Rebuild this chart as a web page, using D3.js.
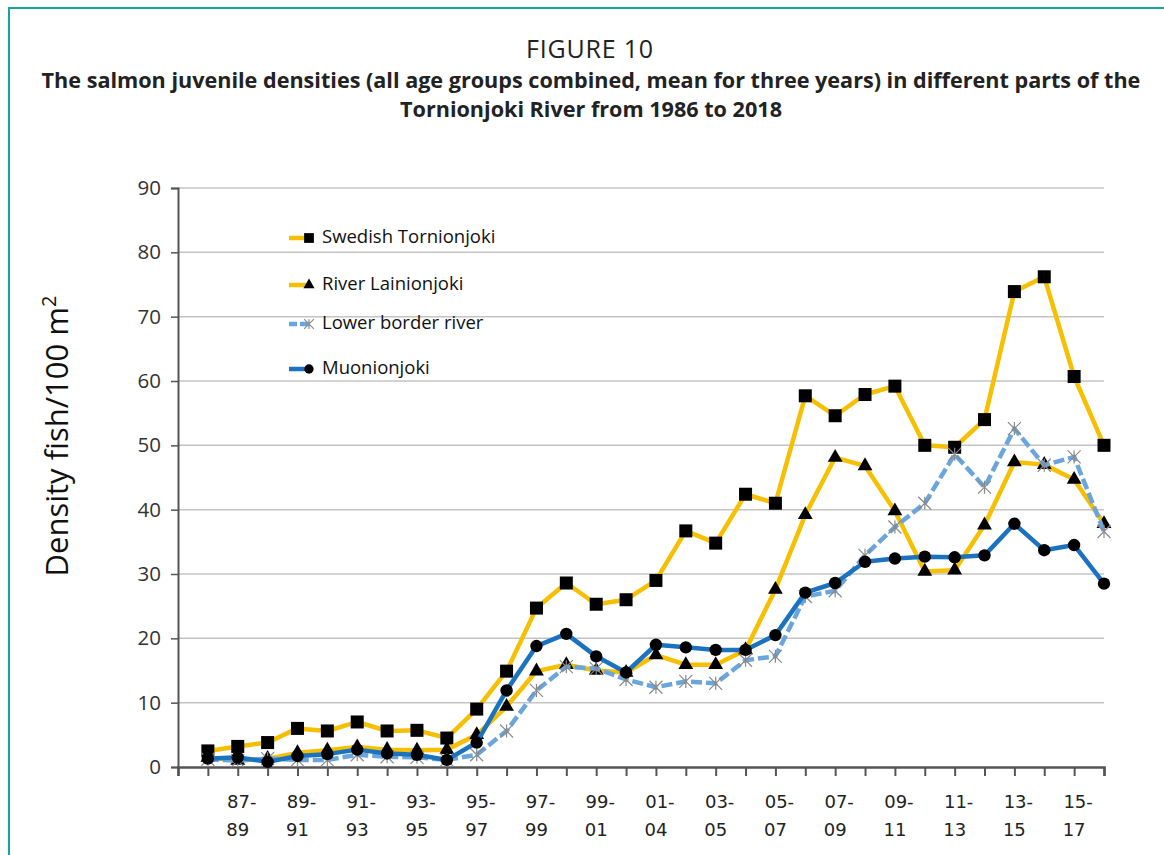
<!DOCTYPE html>
<html><head><meta charset="utf-8">
<script src="https://cdn.jsdelivr.net/npm/d3@7/dist/d3.min.js"></script>
<style>body{margin:0;background:#fff;}svg{display:block;}</style>
</head><body>
<svg id="c" width="1164" height="855"></svg>
<script>
const categories = ["86-88","87-89","88-90","89-91","90-92","91-93","92-94","93-95","94-96","95-97","96-98","97-99","98-00","99-01","00-02","01-03","02-04","03-05","04-06","05-07","06-08","07-09","08-10","09-11","10-12","11-13","12-14","13-15","14-16","15-17","16-18"];
const tickLabels = ["","87-\n89","","89-\n91","","91-\n93","","93-\n95","","95-\n97","","97-\n99","","99-\n01","","01-\n04","","03-\n05","","05-\n07","","07-\n09","","09-\n11","","11-\n13","","13-\n15","","15-\n17",""];
const swedish = [2.5,3.2,3.8,6.0,5.6,7.0,5.6,5.7,4.5,9.0,14.9,24.7,28.6,25.3,26.0,29.0,36.7,34.8,42.4,41.0,57.7,54.6,57.9,59.2,50.0,49.7,54.0,73.9,76.2,60.7,50.0];
const lainionjoki = [1.5,1.0,1.3,2.2,2.6,3.1,2.7,2.6,2.7,5.0,9.4,14.9,15.9,15.0,14.7,17.4,15.9,15.9,18.2,27.6,39.2,48.1,46.8,39.8,30.4,30.6,37.6,47.4,47.0,44.7,37.8];
const lowerBorder = [1.2,1.0,1.3,1.1,1.1,1.9,1.6,1.5,1.1,1.9,5.6,11.9,15.6,15.3,13.6,12.4,13.3,13.0,16.6,17.2,26.5,27.4,32.9,37.3,41.0,48.6,43.5,52.6,46.9,48.2,36.6];
const muonionjoki = [1.3,1.5,0.8,1.7,2.0,2.7,2.1,1.9,1.1,3.8,11.9,18.8,20.7,17.2,14.7,19.0,18.6,18.2,18.2,20.5,27.1,28.6,31.9,32.4,32.7,32.6,32.9,37.8,33.7,34.5,28.5];
const yTicks = [0,10,20,30,40,50,60,70,80,90];
const seriesNames = ["Swedish Tornionjoki","River Lainionjoki","Lower border river","Muonionjoki"];

const svg = d3.select("#c");
// frame
svg.append("path").attr("d","M9,855 L9,8 L1164,8").attr("fill","none").attr("stroke","#1aa39a").attr("stroke-width",2);

// titles
svg.append("text").attr("x",590).attr("y",58).attr("text-anchor","middle")
  .attr("font-family","'Open Sans',sans-serif").attr("font-size",25).attr("letter-spacing",0.8).attr("fill","#222").text("FIGURE 10");
const tf = "'Open Sans',sans-serif";
svg.append("text").attr("x",591).attr("y",88).attr("text-anchor","middle").attr("font-family",tf).attr("font-weight","bold").attr("font-size",21.6).attr("fill","#222")
  .text("The salmon juvenile densities (all age groups combined, mean for three years) in different parts of the");
svg.append("text").attr("x",591).attr("y",117).attr("text-anchor","middle").attr("font-family",tf).attr("font-weight","bold").attr("font-size",21.6).attr("fill","#222")
  .text("Tornionjoki River from 1986 to 2018");

const x = d3.scaleLinear().domain([-1, categories.length-1]).range([178, 1104]);
const y = d3.scaleLinear().domain([0, 90]).range([767, 188]);

// gridlines
svg.append("g").selectAll("line").data(yTicks.filter(d=>d>0)).join("line")
  .attr("x1",178).attr("x2",1104).attr("y1",d=>y(d)).attr("y2",d=>y(d))
  .attr("stroke","#c4c4c4").attr("stroke-width",1.5);

// y axis
const yAxis = svg.append("g").attr("transform","translate(178,0)")
  .call(d3.axisLeft(y).tickValues(yTicks).tickSize(7).tickPadding(10));
yAxis.select(".domain").attr("stroke","#555").attr("stroke-width",2);
yAxis.selectAll(".tick line").attr("stroke","#555").attr("stroke-width",1.5);
yAxis.selectAll(".tick text").attr("font-family","'Open Sans',sans-serif").attr("font-size",20.5).attr("fill","#333");

// x axis
const xAxis = svg.append("g").attr("transform","translate(0,767)")
  .call(d3.axisBottom(x).tickValues(d3.range(-1, categories.length)).tickSize(9).tickFormat(""));
xAxis.select(".domain").attr("stroke","#555").attr("stroke-width",2.5);
xAxis.selectAll(".tick line").attr("stroke","#555").attr("stroke-width",2);

const xl = svg.append("g");
tickLabels.forEach((t,i)=>{
  if(!t) return;
  const parts = t.split("\n");
  const tx = xl.append("text").attr("x",x(i)).attr("y",808).attr("text-anchor","middle")
    .attr("font-family","'DejaVu Sans',sans-serif").attr("font-size",18).attr("fill","#222");
  tx.append("tspan").attr("x",x(i)).attr("dx",4).attr("y",808).text(parts[0]);
  tx.append("tspan").attr("x",x(i)).attr("y",836).text(parts[1]);
});

// y label
svg.append("text").attr("transform","translate(68,436) rotate(-90)").attr("text-anchor","middle")
  .attr("font-family","'Open Sans',sans-serif").attr("font-size",31).attr("fill","#111")
  .text("Density fish/100 m").append("tspan").attr("dy",-12).attr("font-size",20).text("2");

// series
const line = d3.line().x((d,i)=>x(i)).y(d=>y(d));
const series = [
  {name:seriesNames[0], data:swedish, color:"#f6bf00", dash:null, w:4.5, marker:"square"},
  {name:seriesNames[1], data:lainionjoki, color:"#f6bf00", dash:null, w:4.5, marker:"triangle"},
  {name:seriesNames[2], data:lowerBorder, color:"#6aa5dc", dash:"11,4", w:4.5, marker:"x"},
  {name:seriesNames[3], data:muonionjoki, color:"#1b73c0", dash:null, w:4.5, marker:"circle"}
];
function drawMarker(g, type, cx, cy, scale){
  scale = scale||1;
  if(type==="square"){
    const s=13*scale;
    g.append("rect").attr("x",cx-s/2).attr("y",cy-s/2).attr("width",s).attr("height",s).attr("fill","#000");
  } else if(type==="triangle"){
    g.append("path").attr("d",d3.symbol(d3.symbolTriangle, 95*scale*scale)()).attr("transform",`translate(${cx},${cy})`).attr("fill","#000");
  } else if(type==="circle"){
    g.append("circle").attr("cx",cx).attr("cy",cy).attr("r",6.2*scale).attr("fill","#000");
  } else if(type==="x"){
    const r=6.5*scale;
    const p = `M${cx-r},${cy-r}L${cx+r},${cy+r}M${cx-r},${cy+r}L${cx+r},${cy-r}M${cx},${cy-r}L${cx},${cy+r}`;
    g.append("path").attr("d",p).attr("stroke","#8a8a8a").attr("stroke-width",1.2).attr("fill","none");
  }
}
series.forEach(s=>{
  const g = svg.append("g");
  g.append("path").datum(s.data).attr("d",line).attr("fill","none").attr("stroke",s.color)
    .attr("stroke-width",s.w).attr("stroke-dasharray",s.dash).attr("stroke-linejoin","round");
  s.data.forEach((v,i)=>drawMarker(g, s.marker, x(i), y(v)));
});

// legend
const legY = [236, 283, 322, 367];
series.forEach((s,i)=>{
  const g = svg.append("g");
  const ly = legY[i]+2;
  g.append("line").attr("x1",289).attr("x2",310).attr("y1",ly).attr("y2",ly).attr("stroke",s.color).attr("stroke-width",4.5).attr("stroke-dasharray",s.dash?"8,3":null);
  drawMarker(g, s.marker, 309, ly, 0.75);
  g.append("text").attr("x",322).attr("y",legY[i]+7).attr("font-family","'Open Sans',sans-serif").attr("font-size",18.5).attr("fill","#111").text(s.name);
});
</script>
</body></html>
